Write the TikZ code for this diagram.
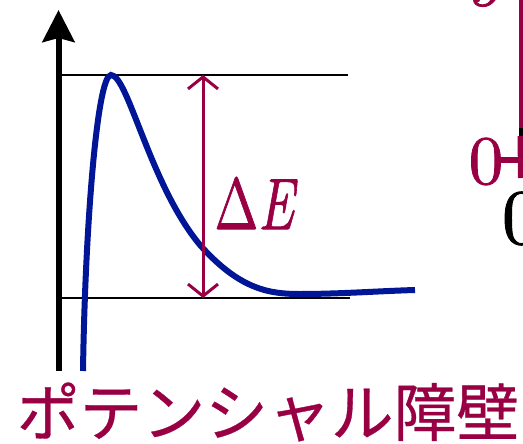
\documentclass[tikz,border=0pt]{standalone}
\usepackage{fontspec}
\newfontfamily\jpfont{Noto Sans CJK JP}[FakeBold=0.5]
\newfontfamily\lmten{lmroman10-regular}[Extension=.otf, ItalicFont=lmroman10-italic, FakeBold=1.2]
\usepackage{tikz}
\usetikzlibrary{arrows.meta}
\definecolor{barrier}{RGB}{153,0,68}
\definecolor{wellblue}{RGB}{0,22,150}

\begin{document}
\begin{tikzpicture}[
  x=0.5pt, y=-0.5pt,
  axis/.style={line width=3pt, -{Stealth[length=16pt, width=16pt, inset=2pt]}},
  level/.style={line width=1.1pt},
  potential/.style={line width=3pt, wellblue},
  gap/.style={line width=1.5pt, barrier, >={Straight Barb[length=6pt, width=15pt]}, <->},
  tag/.style={text=barrier, inner sep=0pt},
  >=Stealth
]
  \useasboundingbox (0,0) rectangle (523,443);
  \clip (0,0) rectangle (523,443);

  % Axis and the two levels
  \coordinate (origin) at (58.5,371);
  \coordinate (ytip) at (58.5,10);
  \coordinate (topL) at (61,75);
  \coordinate (topR) at (348,75);
  \coordinate (botL) at (61,298);
  \coordinate (botR) at (350,298);
  \draw[axis] (origin) -- (ytip);
  \draw[level] (topL) -- (topR);
  \draw[level] (botL) -- (botR);

  % Potential curve
  \coordinate (wall) at (83,371);
  \coordinate (peak) at (111,75);
  \coordinate (tail) at (415,290);
  \draw[potential] (wall) .. controls (85,230) and (97,75) .. (peak)
    .. controls (128,75) and (150,185) .. (200,245)
    .. controls (240,290) and (270,294) .. (300,294)
    .. controls (340,294) and (380,291) .. (tail);

  % Barrier height
  \coordinate (gaptop) at (203,75);
  \coordinate (gapbot) at (203,298);
  \draw[gap] (gaptop) -- (gapbot);
  \node[tag, font=\lmten\fontsize{36.5}{40}\selectfont] (dE) at (256,203) {\scalebox{0.72}[1]{Δ\textit{E}}};

  % Caption
  \node[tag, font=\jpfont\fontsize{31.4}{34}\selectfont] (title) at (268,412) {ポテンシャル障壁};

  % Cut-off pieces of the next panel
  \coordinate (rA) at (520.5,-5);
  \coordinate (rB) at (520.5,128);
  \coordinate (rC) at (520.5,136);
  \coordinate (rD) at (521,178);
  \coordinate (tickL) at (500,160);
  \coordinate (tickR) at (530,160);
  \draw[barrier, line width=2pt] (rA) -- (rB);
  \draw[line width=2pt] (rB) -- (rC);
  \draw[barrier, line width=3pt] (rC) -- (rD);
  \draw[barrier, line width=3pt] (tickL) -- (tickR);
  \node[tag, font=\lmten\fontsize{34.5}{38}\selectfont] (nine) at (486,-17) {9};
  \node[tag, font=\lmten\fontsize{34.5}{38}\selectfont] (zeroR) at (486,161.5) {0};
  \node[inner sep=0pt, font=\lmten\fontsize{39}{42}\selectfont] (zeroB) at (521.5,218.5) {0};
\end{tikzpicture}
\end{document}
